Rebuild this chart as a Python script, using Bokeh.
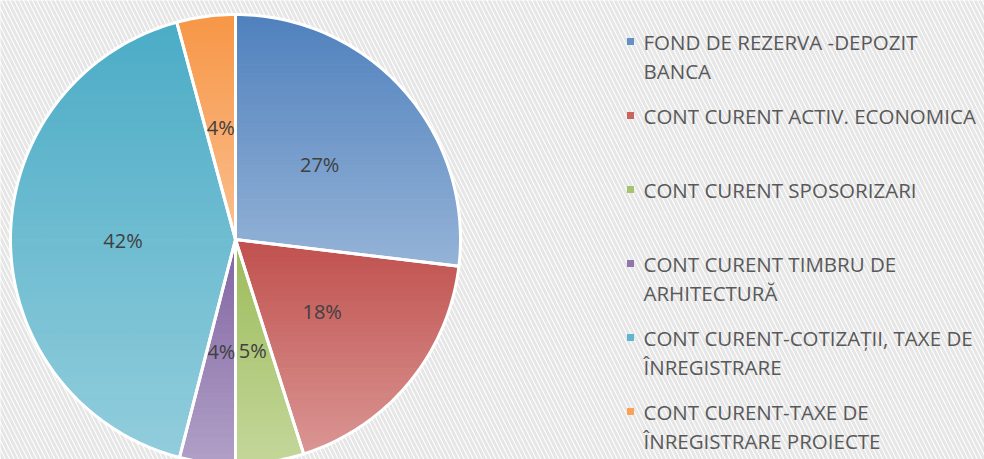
import math
from bokeh.plotting import figure
from bokeh.models import Range1d
from bokeh.core.properties import value
from bokeh.embed import file_html
from bokeh.resources import INLINE

# ---- data ----
categories = [
    "FOND DE REZERVA -DEPOZIT\nBANCA",
    "CONT CURENT ACTIV. ECONOMICA",
    "CONT CURENT SPOSORIZARI",
    "CONT CURENT TIMBRU DE\nARHITECTURĂ",
    "CONT CURENT-COTIZAȚII, TAXE DE\nÎNREGISTRARE",
    "CONT CURENT-TAXE DE\nÎNREGISTRARE PROIECTE",
]
shares = [26.9, 18.2, 4.9, 4.0, 41.8, 4.2]
top_colors = ["#4F81BD", "#C0504D", "#9BBB59", "#8064A2", "#4BACC6", "#F79646"]
bottom_colors = ["#95B3D7", "#DA9694", "#C4D79B", "#B1A0C7", "#92CDDC", "#FABF8F"]

# ---- layout (page pixel coordinates, y downwards) ----
W, H = 984, 459
OFF = 0
CX, CY, R = 235, 239, 225
LABEL_R = 0.5

p = figure(width=W, height=H, output_backend="svg", toolbar_location=None,
           x_range=Range1d(OFF, OFF + W), y_range=Range1d(OFF + H, OFF),
           min_border=0)
p.axis.visible = False
p.grid.visible = False
p.outline_line_color = None
p.background_fill_color = "white"
p.border_fill_color = "white"

# hatched background
p.quad(left=[OFF - 5], right=[OFF + W + 5], top=[OFF - 5], bottom=[OFF + H + 5],
       fill_color="white", line_color=None,
       hatch_pattern="\\", hatch_color="#e6e6e6", hatch_scale=9, hatch_weight=3)


def hex2rgb(h):
    h = h.lstrip("#")
    return tuple(int(h[i:i + 2], 16) for i in (0, 2, 4))


def mix(c1, c2, t):
    a, b = hex2rgb(c1), hex2rgb(c2)
    return "#%02x%02x%02x" % tuple(int(round(a[i] + (b[i] - a[i]) * t)) for i in range(3))


def clip(poly, lo, hi):
    def inter(a, b, y):
        t = (y - a[1]) / (b[1] - a[1])
        return (a[0] + (b[0] - a[0]) * t, y)

    def clip_half(pts, keep, inter_y):
        out = []
        n = len(pts)
        for i in range(n):
            cur, prv = pts[i], pts[i - 1]
            kc, kp = keep(cur), keep(prv)
            if kc:
                if not kp:
                    out.append(inter(prv, cur, inter_y))
                out.append(cur)
            elif kp:
                out.append(inter(prv, cur, inter_y))
        return out

    pts = clip_half(poly, lambda q: q[1] >= lo, lo)
    if not pts:
        return []
    return clip_half(pts, lambda q: q[1] <= hi, hi)


total = sum(shares)
start = 0.0
outlines_x, outlines_y = [], []
band_xs, band_ys, band_cols = [], [], []
lab_x, lab_y, lab_t = [], [], []
for i, s in enumerate(shares):
    a0 = start / total * 2 * math.pi
    a1 = (start + s) / total * 2 * math.pi
    n = max(4, int(s * 3))
    poly = [(CX, CY)]
    for k in range(n + 1):
        a = a0 + (a1 - a0) * k / n
        poly.append((CX + R * math.sin(a), CY - R * math.cos(a)))
    ys = [q[1] for q in poly]
    ymin, ymax = min(ys), max(ys)
    NB = 60
    for b in range(NB):
        lo = ymin + (ymax - ymin) * b / NB
        hi = ymin + (ymax - ymin) * (b + 1) / NB
        cp = clip(poly, lo, hi)
        if len(cp) >= 3:
            band_xs.append([q[0] for q in cp])
            band_ys.append([q[1] for q in cp])
            band_cols.append(mix(top_colors[i], bottom_colors[i], (b + 0.5) / NB))
    outlines_x.append([q[0] for q in poly])
    outlines_y.append([q[1] for q in poly])
    am = (a0 + a1) / 2
    lab_x.append(CX + LABEL_R * R * math.sin(am))
    lab_y.append(CY - LABEL_R * R * math.cos(am))
    lab_t.append("%d%%" % round(s))
    start += s

p.patches(band_xs, band_ys, fill_color=band_cols, line_color=band_cols, line_width=1)
p.patches(outlines_x, outlines_y, fill_alpha=0, line_color="white", line_width=3,
          line_join="round")

p.text(lab_x, lab_y, text=lab_t, text_align="center", text_baseline="middle",
       text_font=value("Open Sans"), text_font_size="20px", text_color="#404040")

# legend
LX, LY0, LSTEP, LLINE = 630, 41, 74, 29
mk_x, mk_y, mk_c = [], [], []
tx, ty, tt = [], [], []
for i, c in enumerate(categories):
    y0 = LY0 + i * LSTEP
    mk_x.append(LX)
    mk_y.append(y0)
    mk_c.append(mix(top_colors[i], bottom_colors[i], 0.3))
    for j, line in enumerate(c.split("\n")):
        tx.append(LX + 13)
        ty.append(y0 + j * LLINE)
        tt.append(line)
p.scatter(mk_x, mk_y, marker="square", size=7, fill_color=mk_c, line_color=None)
p.text(tx, ty, text=tt, text_align="left", text_baseline="middle",
       text_font=value("Open Sans"), text_font_size="20.5px", text_color="#595959")

open("out.html", "w").write(file_html(p, INLINE))
